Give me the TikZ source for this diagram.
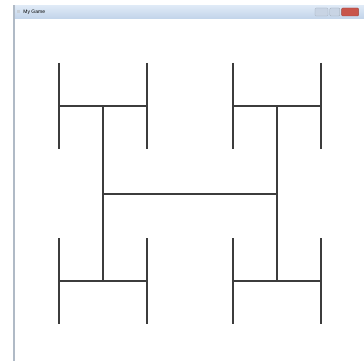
\documentclass[tikz,border=0pt]{standalone}
\usepackage{tikz}
\usepackage{fontspec}
\setmainfont{Liberation Sans}
\usetikzlibrary{positioning}
\definecolor{cFrame}  {RGB}{176,186,198}
\definecolor{cBarTop} {RGB}{222,233,246}
\definecolor{cBarBot} {RGB}{193,211,233}
\definecolor{cBtn}    {RGB}{200,212,228}
\definecolor{cClose}  {RGB}{200, 85, 75}
\definecolor{cTree}   {RGB}{ 60, 60, 60}

\begin{document}
\begin{tikzpicture}[
  x=1pt, y=-1pt,
  %% ── window title bar ──────────────────────────────────────────────────
  Bar/.style={top color=cBarTop, bottom color=cBarBot, draw=none},
  %% ── caption buttons ───────────────────────────────────────────────────
  Btn/.style={fill=#1, draw=#1!80!black, line width=0.3pt,
              rounded corners=1pt},
  %% ── window caption text ───────────────────────────────────────────────
  T/.style={font=\fontsize{5}{6}\selectfont, inner sep=0pt, anchor=west},
  %% ── H-tree stroke ─────────────────────────────────────────────────────
  H/.style={draw=cTree, line width=1.8pt},
]

\useasboundingbox (0,0) rectangle (364,361);
\fill[white] (0,0) rectangle (364,361);

%% ═══════════════════════════════════════════════════════════════════════
%%  WINDOW FRAME
%% ═══════════════════════════════════════════════════════════════════════

\fill[cFrame] (13,5) rectangle (364,361);
\fill[white]  (15,19) rectangle (364,361);
\shade[Bar]   (15,6) rectangle (364,19);

\node[Btn=cBtn]   (minbtn) at (321.5,12) [minimum width=13pt, minimum height=8pt, inner sep=0pt] {};
\node[Btn=cBtn,   right=1.5pt of minbtn] (maxbtn) [minimum width=10pt, minimum height=8pt, inner sep=0pt] {};
\node[Btn=cClose, right=1.5pt of maxbtn] (closebtn) [minimum width=17pt, minimum height=8pt, inner sep=0pt] {};

\node[fill=cFrame!70, minimum size=3pt, inner sep=0pt] (icon) at (18.5,12) {};
\node[T, right=3pt of icon] (title) {My Game};

%% ═══════════════════════════════════════════════════════════════════════
%%  H-TREE  (centre 190,194)
%% ═══════════════════════════════════════════════════════════════════════

\draw[H] (103,194) -- (277,194);

\foreach \cx in {103,277}{
  \draw[H] (\cx,106) -- (\cx,281);
  \foreach \cy in {106,281}{
    \draw[H] (\cx-44,\cy) -- (\cx+44,\cy);
    \foreach \dx in {-44,44}
      \draw[H] (\cx+\dx,\cy-43) -- (\cx+\dx,\cy+43);
  }
}

\end{tikzpicture}
\end{document}
